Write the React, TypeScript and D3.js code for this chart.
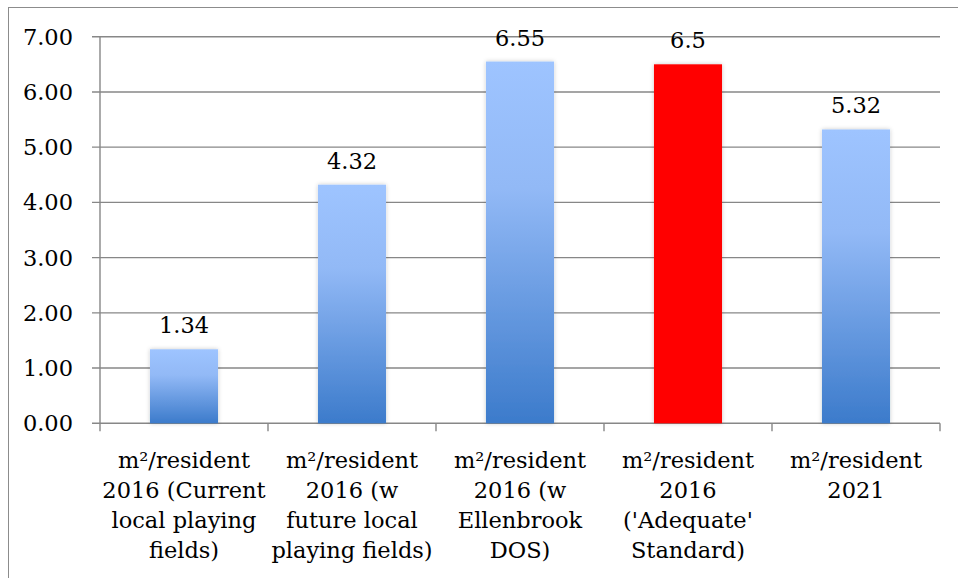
import React from "react";
import * as d3 from "d3";

const categories: string[][] = [
  ["m²/resident", "2016 (Current", "local playing", "fields)"],
  ["m²/resident", "2016 (w", "future local", "playing fields)"],
  ["m²/resident", "2016 (w", "Ellenbrook", "DOS)"],
  ["m²/resident", "2016", "('Adequate'", "Standard)"],
  ["m²/resident", "2021"],
];
const values: number[] = [1.34, 4.32, 6.55, 6.5, 5.32];
const valueLabels: string[] = ["1.34", "4.32", "6.55", "6.5", "5.32"];
const highlight: boolean[] = [false, false, false, true, false];
const yTicks: number[] = [0, 1, 2, 3, 4, 5, 6, 7];

const W = 958;
const H = 578;
const FONT = "'DejaVu Serif'";

export default function App() {
  const x = d3
    .scaleBand<number>()
    .domain(values.map((_, i) => i))
    .range([100, 940])
    .paddingInner(0.595)
    .paddingOuter(0.2975);
  const bandStep = x.step();
  const y = d3.scaleLinear().domain([0, 7]).range([423.3, 36.7]);
  const fmt = d3.format(".2f");

  return (
    <svg
      width={W}
      height={H}
      style={{ position: "absolute", left: 0, top: 0, background: "#fff" }}
    >
      <defs>
        <linearGradient id="barGrad" x1="0" y1="0" x2="0" y2="1">
          <stop offset="0" stopColor="#9EC4FF" />
          <stop offset="0.35" stopColor="#92B9F6" />
          <stop offset="1" stopColor="#3C7BCB" />
        </linearGradient>
        <filter id="shadow" x="-20%" y="-10%" width="140%" height="120%">
          <feDropShadow dx="0" dy="0" stdDeviation="2" floodColor="#000" floodOpacity="0.22" />
        </filter>
      </defs>
      <rect x={8.5} y={7.5} width={W + 20} height={H + 20} fill="#fff" stroke="#8c8c8c" strokeWidth={1} />

      {yTicks.map((t) => (
        <line
          key={"g" + t}
          x1={92}
          x2={940}
          y1={y(t)}
          y2={y(t)}
          stroke="#878787"
          strokeWidth={1.4}
        />
      ))}
      <line x1={100} x2={100} y1={y(7)} y2={y(0)} stroke="#878787" strokeWidth={1.4} />
      {d3.range(values.length + 1).map((i) => {
        const xx = 100 + i * bandStep;
        return (
          <line key={"xt" + i} x1={xx} x2={xx} y1={y(0)} y2={y(0) + 8} stroke="#878787" strokeWidth={1.4} />
        );
      })}
      {yTicks.map((t) => (
        <text
          key={"yl" + t}
          x={73}
          y={y(t)}
          dy="0.36em"
          textAnchor="end"
          style={{ fontFamily: FONT }}
          fontSize={22.5}
          fill="#000"
        >
          {fmt(t)}
        </text>
      ))}
      {values.map((v, i) => (
        <rect
          key={"b" + i}
          x={x(i)}
          y={y(v)}
          width={x.bandwidth()}
          height={y(0) - y(v)}
          fill={highlight[i] ? "#FF0000" : "url(#barGrad)"}
          filter="url(#shadow)"
        />
      ))}
      {values.map((v, i) => (
        <text
          key={"v" + i}
          x={(x(i) as number) + x.bandwidth() / 2}
          y={y(v) - 16}
          textAnchor="middle"
          style={{ fontFamily: FONT }}
          fontSize={22.5}
          fill="#000"
        >
          {valueLabels[i]}
        </text>
      ))}
      {categories.map((lines, i) => (
        <text
          key={"c" + i}
          x={(x(i) as number) + x.bandwidth() / 2}
          y={468}
          textAnchor="middle"
          style={{ fontFamily: FONT }}
          fontSize={22.5}
          fill="#000"
        >
          {lines.map((ln, j) => (
            <tspan key={j} x={(x(i) as number) + x.bandwidth() / 2} dy={j === 0 ? 0 : 30}>
              {ln}
            </tspan>
          ))}
        </text>
      ))}
    </svg>
  );
}
